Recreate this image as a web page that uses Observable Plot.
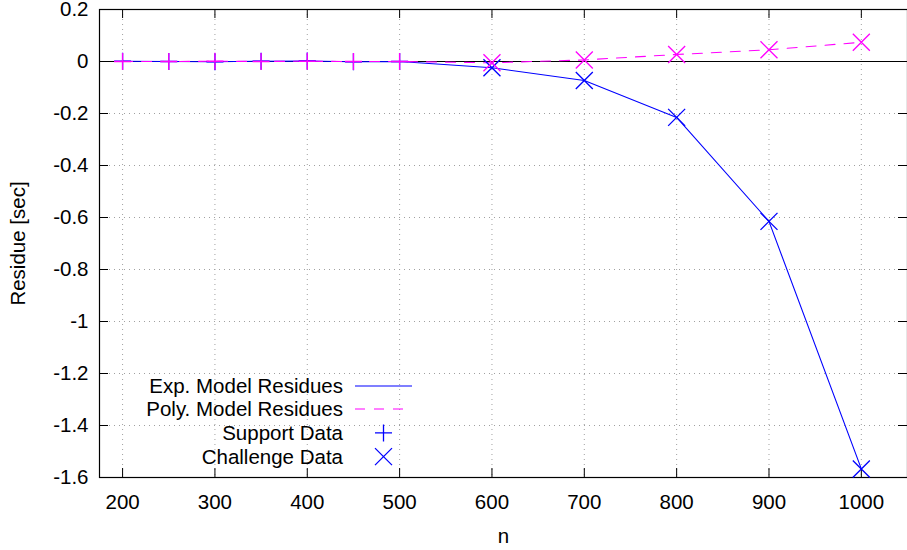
<!DOCTYPE html>
<html><head><meta charset="utf-8">
<script src="https://cdn.jsdelivr.net/npm/d3@7"></script>
<script src="https://cdn.jsdelivr.net/npm/@observablehq/plot@0.6"></script>
<style>body{margin:0;background:#fff} #chart{width:907px;height:550px}</style>
</head><body><div id="chart"></div>
<script>
// ---- data ----
const supportN = [200, 250, 300, 350, 400, 450, 500];
const expSupport = [0.001, 0.000, -0.001, 0.001, 0.002, -0.001, 0.000];
const polySupport = [0.000, 0.000, 0.001, 0.000, 0.001, 0.000, 0.000];
const challengeN = [600, 700, 800, 900, 1000];
const expChallenge = [-0.024, -0.073, -0.215, -0.615, -1.567];
const polyChallenge = [-0.005, 0.006, 0.027, 0.045, 0.074];
const xTicks = [200, 300, 400, 500, 600, 700, 800, 900, 1000];
const yTicks = [0.2, 0, -0.2, -0.4, -0.6, -0.8, -1, -1.2, -1.4, -1.6];
const legendLabels = ["Exp. Model Residues", "Poly. Model Residues", "Support Data", "Challenge Data"];

const BLUE = "#0000ff", MAGENTA = "#ff00ff";
const FONT = "'Liberation Sans', Arial, sans-serif", FS = 20.5;
const rows = (ns, vs) => ns.map((n, i) => ({n, r: vs[i]}));
const expSup = rows(supportN, expSupport), polySup = rows(supportN, polySupport);
const expCh = rows(challengeN, expChallenge), polyCh = rows(challengeN, polyChallenge);
const expAll = expSup.concat(expCh), polyAll = polySup.concat(polyCh);

const plusSym = {draw(ctx, size) { const r = Math.sqrt(size / Math.PI);
  ctx.moveTo(-r, 0); ctx.lineTo(r, 0); ctx.moveTo(0, -r); ctx.lineTo(0, r); }};
const timesSym = {draw(ctx, size) { const r = Math.sqrt(size / Math.PI);
  ctx.moveTo(-r, -r); ctx.lineTo(r, r); ctx.moveTo(-r, r); ctx.lineTo(r, -r); }};

const fmtY = d => d === 0 ? "0" : String(+d.toFixed(1));
const grid = {stroke: "#a0a0a0", strokeDasharray: "1,4", strokeWidth: 1};

const plot = Plot.plot({
  width: 907, height: 550,
  marginLeft: 99, marginRight: 0, marginTop: 9, marginBottom: 73,
  style: {fontFamily: FONT, fontSize: FS + "px", color: "black", background: "white"},
  x: {domain: [175, 1050], ticks: xTicks, tickSize: 0, tickPadding: 17, label: null, tickFormat: d => String(d)},
  y: {domain: [-1.6, 0.2], ticks: yTicks, tickSize: 0, tickPadding: 11, label: null, tickFormat: fmtY},
  marks: [
    Plot.ruleX(xTicks, {x: d => d, ...grid}),
    Plot.ruleY(yTicks, {y: d => d, ...grid}),
    Plot.ruleY([0], {y: d => d, stroke: "black", strokeWidth: 1.2}),
    Plot.ruleX(xTicks, {x: d => d, insetTop: 459, stroke: "black"}),
    Plot.ruleX(xTicks, {x: d => d, insetBottom: 459, stroke: "black"}),
    Plot.ruleY(yTicks, {y: d => d, insetRight: 799, stroke: "black"}),
    Plot.ruleY(yTicks, {y: d => d, insetLeft: 799, stroke: "black"}),
    Plot.frame({stroke: "black", strokeWidth: 1.2}),
    Plot.line(expAll, {x: "n", y: "r", stroke: BLUE, strokeWidth: 1.1}),
    Plot.line(polyAll, {x: "n", y: "r", stroke: MAGENTA, strokeWidth: 1.1, strokeDasharray: "10,9"}),
    Plot.dot(expSup, {x: "n", y: "r", symbol: plusSym, r: 8.5, stroke: BLUE, fill: "none", strokeWidth: 1.3}),
    Plot.dot(polySup, {x: "n", y: "r", symbol: plusSym, r: 8.5, stroke: MAGENTA, fill: "none", strokeWidth: 1.3}),
    Plot.dot(expCh, {x: "n", y: "r", symbol: timesSym, r: 8.5, stroke: BLUE, fill: "none", strokeWidth: 1.3}),
    Plot.dot(polyCh, {x: "n", y: "r", symbol: timesSym, r: 8.5, stroke: MAGENTA, fill: "none", strokeWidth: 1.3}),
    Plot.text(["n"], {text: d => d, frameAnchor: "bottom", lineAnchor: "middle", textAnchor: "middle", dy: 59, fontSize: FS}),
    Plot.text(["Residue [sec]"], {text: d => d, frameAnchor: "left", lineAnchor: "middle", textAnchor: "middle", dx: -81, rotate: -90, fontSize: FS})
  ]
});

// ---- key (inside plot, gnuplot style) ----
const svg = d3.select(plot);
const key = svg.append("g").attr("font-size", FS).attr("font-family", FONT);
const y0 = 385.5, step = 23.7, tx = 343, lx1 = 355, lx2 = 412, sx = 383.5, s = 8.5;
legendLabels.forEach((lab, i) => {
  const y = y0 + i * step;
  const yl = Math.round(y);
  key.append("text").attr("x", tx).attr("y", y).attr("dy", "0.35em").attr("text-anchor", "end").attr("fill", "black").text(lab);
  let p = null;
  if (i === 0) p = key.append("path").attr("d", `M${lx1},${yl}H${lx2}`).style("stroke", BLUE).attr("stroke-width", 1.1);
  if (i === 1) p = key.append("path").attr("d", `M${lx1},${yl}H${lx2}`).style("stroke", MAGENTA).attr("stroke-width", 1.1).attr("stroke-dasharray", "10,9");
  if (i === 2) p = key.append("path").attr("d", `M${sx - s},${y}H${sx + s}M${sx},${y - s}V${y + s}`).style("stroke", BLUE).attr("stroke-width", 1.3);
  if (i === 3) p = key.append("path").attr("d", `M${sx - s},${y - s}L${sx + s},${y + s}M${sx - s},${y + s}L${sx + s},${y - s}`).style("stroke", BLUE).attr("stroke-width", 1.3);
  p.style("fill", "none");
});

document.getElementById("chart").appendChild(plot);
</script></body></html>
